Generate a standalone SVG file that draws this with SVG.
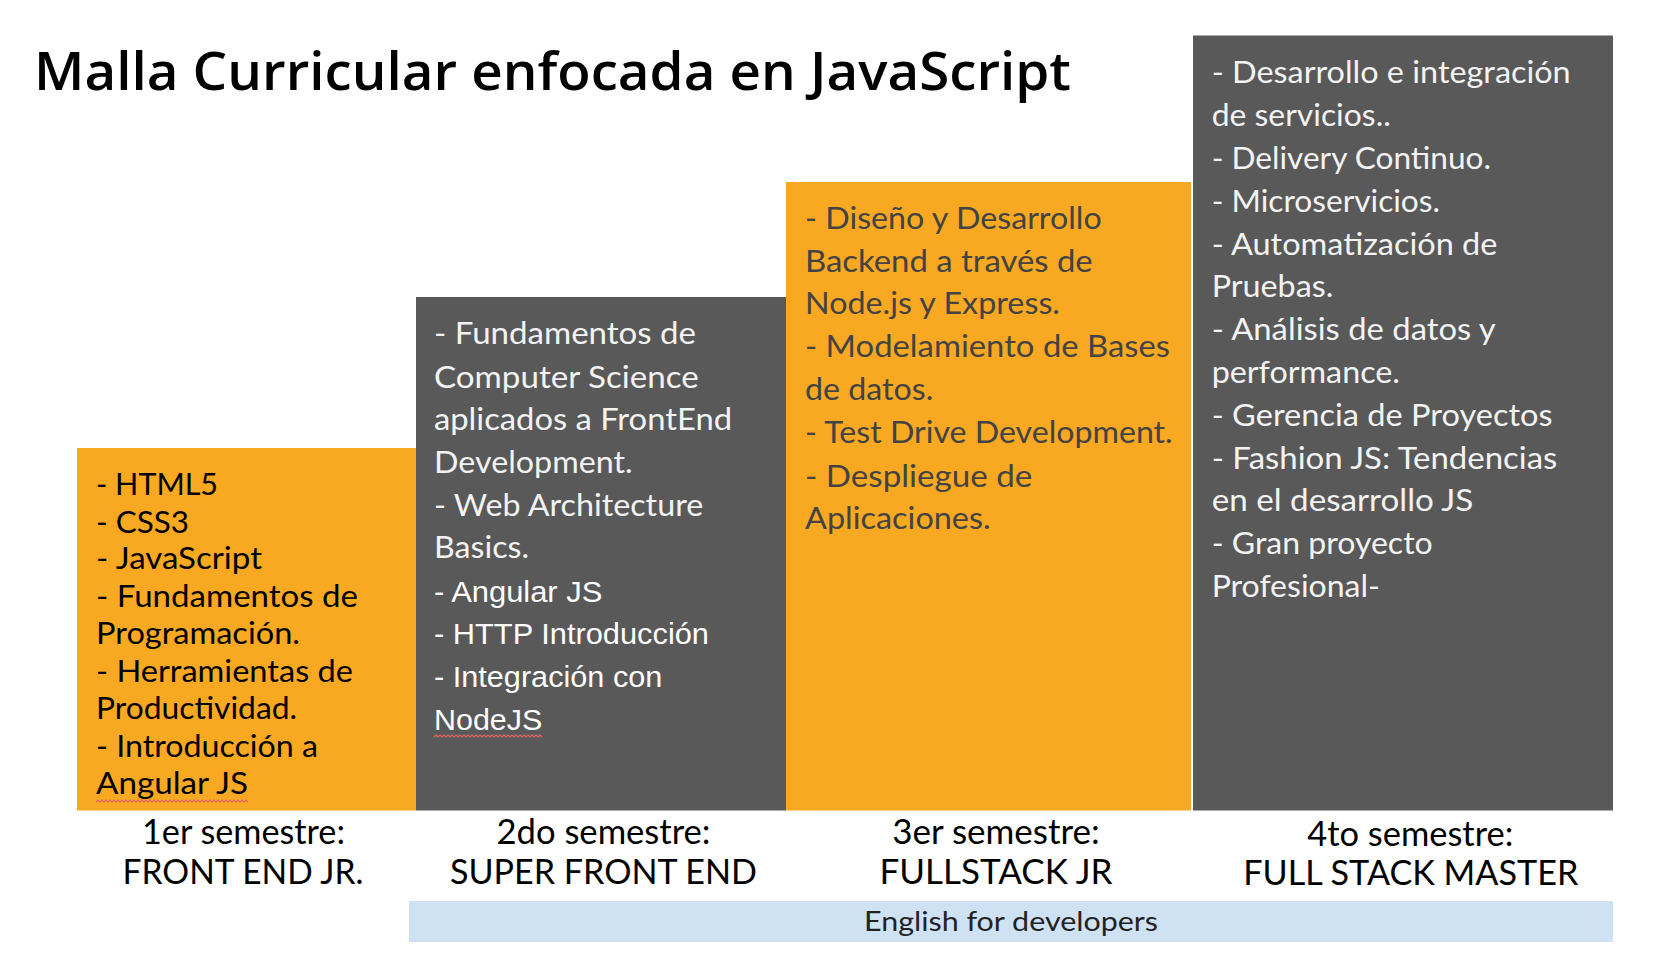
<svg xmlns="http://www.w3.org/2000/svg" width="1660" height="954" viewBox="0 0 1660 954">
<style>
  .title { font-family: "Open Sans", "Noto Sans", sans-serif; font-weight: 600; font-size: 52px; fill: #000; }
  .body { font-family: Lato, "Noto Sans", sans-serif; font-size: 30px; font-weight: 400; }
  .arial { font-family: "Liberation Sans", Arial, sans-serif; font-size: 30px; fill: #ffffff; }
  .label { font-family: Lato, "Noto Sans", sans-serif; font-size: 34px; font-weight: 400; fill: #000; text-anchor: middle; }
  .eng { font-family: Lato, "Noto Sans", sans-serif; font-size: 27px; font-weight: 400; fill: #222; text-anchor: middle; }
  .orange { fill: #F9A822; }
  .gray { fill: #595959; }
  .t-black { fill: #000; }
  .t-white { fill: #F3F3F3; }
  .t-dark { fill: #434343; }
  .squiggle { fill: none; stroke: #E06666; stroke-width: 1.2; }
</style>
<rect x="0" y="0" width="1660" height="954" fill="#ffffff"/>

<g id="title">
  <text class="title" x="34" y="90" textLength="1037" lengthAdjust="spacingAndGlyphs">Malla Curricular enfocada en JavaScript</text>
</g>

<g id="connectors"></g>

<g id="sem1">
  <rect class="orange" x="77" y="448" width="339" height="362.5"/>
  <g class="body t-black">
    <text x="96" y="495" textLength="122" lengthAdjust="spacingAndGlyphs">- HTML5</text>
    <text x="96" y="532.7" textLength="93" lengthAdjust="spacingAndGlyphs">- CSS3</text>
    <text x="96" y="569.3" textLength="166" lengthAdjust="spacingAndGlyphs">- JavaScript</text>
    <text x="96" y="606.7" textLength="262" lengthAdjust="spacingAndGlyphs">- Fundamentos de</text>
    <text x="96" y="644" textLength="204" lengthAdjust="spacingAndGlyphs">Programación.</text>
    <text x="96" y="681.7" textLength="257" lengthAdjust="spacingAndGlyphs">- Herramientas de</text>
    <text x="96" y="719.3" textLength="201" lengthAdjust="spacingAndGlyphs">Productividad.</text>
    <text x="96" y="756.7" textLength="222" lengthAdjust="spacingAndGlyphs">- Introducción a</text>
    <text x="96" y="794" textLength="152" lengthAdjust="spacingAndGlyphs">Angular JS</text>
  </g>
  <polyline class="squiggle" points="96,802 98,800 100,802 102,800 104,802 106,800 108,802 110,800 112,802 114,800 116,802 118,800 120,802 122,800 124,802 126,800 128,802 130,800 132,802 134,800 136,802 138,800 140,802 142,800 144,802 146,800 148,802 150,800 152,802 154,800 156,802 158,800 160,802 162,800 164,802 166,800 168,802 170,800 172,802 174,800 176,802 178,800 180,802 182,800 184,802 186,800 188,802 190,800 192,802 194,800 196,802 198,800 200,802 202,800 204,802 206,800 208,802 210,800 212,802 214,800 216,802 218,800 220,802 222,800 224,802 226,800 228,802 230,800 232,802 234,800 236,802 238,800 240,802 242,800 244,802 246,800 248,802"/>
  <text class="label" x="243.5" y="843.5" textLength="203" lengthAdjust="spacingAndGlyphs">1er semestre:</text>
  <text class="label" x="243" y="884" textLength="241" lengthAdjust="spacingAndGlyphs">FRONT END JR.</text>
</g>

<g id="sem2">
  <rect class="gray" x="416" y="297" width="370" height="513.5"/>
  <g class="body t-white">
    <text x="434" y="344" textLength="262" lengthAdjust="spacingAndGlyphs">- Fundamentos de</text>
    <text x="434" y="387.7" textLength="264.7" lengthAdjust="spacingAndGlyphs">Computer Science</text>
    <text x="434" y="430" textLength="298" lengthAdjust="spacingAndGlyphs">aplicados a FrontEnd</text>
    <text x="434" y="472.7" textLength="198.7" lengthAdjust="spacingAndGlyphs">Development.</text>
    <text x="434" y="515.7" textLength="269.3" lengthAdjust="spacingAndGlyphs">- Web Architecture</text>
    <text x="434" y="558.3" textLength="95" lengthAdjust="spacingAndGlyphs">Basics.</text>
  </g>
  <g class="arial">
    <text x="434" y="601.7" textLength="168.3" lengthAdjust="spacingAndGlyphs">- Angular JS</text>
    <text x="434" y="644" textLength="275" lengthAdjust="spacingAndGlyphs">- HTTP Introducción</text>
    <text x="434" y="687.3" textLength="228.3" lengthAdjust="spacingAndGlyphs">- Integración con</text>
    <text x="434" y="730" textLength="108.3" lengthAdjust="spacingAndGlyphs">NodeJS</text>
  </g>
  <polyline class="squiggle" points="434,737 436,735 438,737 440,735 442,737 444,735 446,737 448,735 450,737 452,735 454,737 456,735 458,737 460,735 462,737 464,735 466,737 468,735 470,737 472,735 474,737 476,735 478,737 480,735 482,737 484,735 486,737 488,735 490,737 492,735 494,737 496,735 498,737 500,735 502,737 504,735 506,737 508,735 510,737 512,735 514,737 516,735 518,737 520,735 522,737 524,735 526,737 528,735 530,737 532,735 534,737 536,735 538,737 540,735 542,737"/>
  <text class="label" x="603.5" y="843.8" textLength="214" lengthAdjust="spacingAndGlyphs">2do semestre:</text>
  <text class="label" x="603.5" y="884" textLength="307" lengthAdjust="spacingAndGlyphs">SUPER FRONT END</text>
</g>

<g id="sem3">
  <rect class="orange" x="786" y="182" width="405" height="628.5"/>
  <g class="body t-dark">
    <text x="805" y="229" textLength="296.7" lengthAdjust="spacingAndGlyphs">- Diseño y Desarrollo</text>
    <text x="805" y="272.3" textLength="287.7" lengthAdjust="spacingAndGlyphs">Backend a través de</text>
    <text x="805" y="314" textLength="255" lengthAdjust="spacingAndGlyphs">Node.js y Express.</text>
    <text x="805" y="356.7" textLength="365" lengthAdjust="spacingAndGlyphs">- Modelamiento de Bases</text>
    <text x="805" y="400" textLength="128.3" lengthAdjust="spacingAndGlyphs">de datos.</text>
    <text x="805" y="443.3" textLength="367.7" lengthAdjust="spacingAndGlyphs">- Test Drive Development.</text>
    <text x="805" y="486.7" textLength="227.3" lengthAdjust="spacingAndGlyphs">- Despliegue de</text>
    <text x="805" y="529" textLength="185.7" lengthAdjust="spacingAndGlyphs">Aplicaciones.</text>
  </g>
  <text class="label" x="996" y="843.8" textLength="207.5" lengthAdjust="spacingAndGlyphs">3er semestre:</text>
  <text class="label" x="996" y="884" textLength="233" lengthAdjust="spacingAndGlyphs">FULLSTACK JR</text>
</g>

<g id="sem4">
  <rect class="gray" x="1193" y="35.5" width="420" height="775"/>
  <g class="body t-white">
    <text x="1211.7" y="83.3" textLength="359" lengthAdjust="spacingAndGlyphs">- Desarrollo e integración</text>
    <text x="1211.7" y="126" textLength="179" lengthAdjust="spacingAndGlyphs">de servicios..</text>
    <text x="1211.7" y="168.9" textLength="279.3" lengthAdjust="spacingAndGlyphs">- Delivery Continuo.</text>
    <text x="1211.7" y="211.7" textLength="228.3" lengthAdjust="spacingAndGlyphs">- Microservicios.</text>
    <text x="1211.7" y="254.5" textLength="285.7" lengthAdjust="spacingAndGlyphs">- Automatización de</text>
    <text x="1211.7" y="297.3" textLength="121.7" lengthAdjust="spacingAndGlyphs">Pruebas.</text>
    <text x="1211.7" y="340" textLength="284" lengthAdjust="spacingAndGlyphs">- Análisis de datos y</text>
    <text x="1211.7" y="382.9" textLength="188.3" lengthAdjust="spacingAndGlyphs">performance.</text>
    <text x="1211.7" y="425.7" textLength="341" lengthAdjust="spacingAndGlyphs">- Gerencia de Proyectos</text>
    <text x="1211.7" y="468.5" textLength="345.7" lengthAdjust="spacingAndGlyphs">- Fashion JS: Tendencias</text>
    <text x="1211.7" y="511.3" textLength="261.7" lengthAdjust="spacingAndGlyphs">en el desarrollo JS</text>
    <text x="1211.7" y="554" textLength="221" lengthAdjust="spacingAndGlyphs">- Gran proyecto</text>
    <text x="1211.7" y="596.9" textLength="168.3" lengthAdjust="spacingAndGlyphs">Profesional-</text>
  </g>
  <text class="label" x="1410.3" y="845.7" textLength="206" lengthAdjust="spacingAndGlyphs">4to semestre:</text>
  <text class="label" x="1410.8" y="885" textLength="335" lengthAdjust="spacingAndGlyphs">FULL STACK MASTER</text>
</g>

<g id="english">
  <rect x="409" y="901" width="1204" height="41" fill="#CFE2F3"/>
  <text class="eng" x="1011" y="930.7" textLength="294" lengthAdjust="spacingAndGlyphs">English for developers</text>
</g>
</svg>
